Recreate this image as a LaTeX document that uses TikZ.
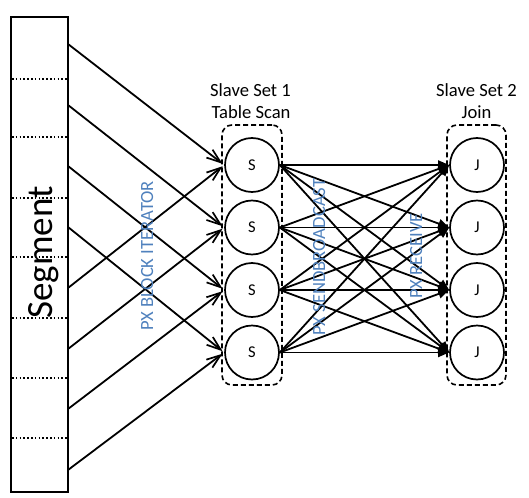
\documentclass[tikz,border=0pt]{standalone}
\usepackage{fontspec}
\setmainfont{Carlito}
\usetikzlibrary{arrows.meta}
\definecolor{pxblue}{RGB}{79,129,189}
\begin{document}
\begin{tikzpicture}[x=1pt,y=-1pt,
  worker/.style={circle,draw,line width=1.7pt,minimum size=54pt,inner sep=0pt,font=\fontsize{16.5}{18}\selectfont},
  setbox/.style={draw,line width=1.6pt,rounded corners=10pt,dash pattern=on 5pt off 3pt,inner sep=0pt},
  scanline/.style={line width=1.8pt,shorten >=2pt,-{Straight Barb[length=14pt,width=10pt,line width=1.7pt]}},
  sendline/.style={line width=1.8pt,-{Triangle[length=11pt,width=9pt]}},
  pxlabel/.style={rotate=90,anchor=base,text=pxblue,font=\fontsize{18.6}{22}\selectfont,inner sep=0pt},
  title/.style={anchor=base,font=\fontsize{18.6}{22}\selectfont,inner sep=0pt},
  sep/.style={line width=2pt,dash pattern=on 1.6pt off 2.2pt}
]
\useasboundingbox (0,0) rectangle (529,497);

% segment
\node (seg) [draw,line width=2.2pt,inner sep=0pt,minimum width=57pt,minimum height=475pt] at (39.5,254.5) {};
\foreach \y in {79,137,198,257,318,378,438}
  \draw[sep] (12,\y) -- (67,\y);
\node (segtxt) [rotate=90,anchor=base,font=\fontsize{37}{40}\selectfont,inner sep=0pt] at (52,252.5) {Segment};

% line start points on the segment
\coordinate (a1) at (68,44);
\coordinate (a2) at (68,105);
\coordinate (a3) at (68,166);
\coordinate (a4) at (68,227);
\coordinate (a5) at (68,288);
\coordinate (a6) at (68,349);
\coordinate (a7) at (68,409);
\coordinate (a8) at (68,470);

% slave set boxes
\node[setbox,minimum width=60pt,minimum height=260pt] (box1) at (252,255) {};
\node[setbox,minimum width=59pt,minimum height=260pt] (box2) at (476.5,255) {};

% workers
\node[worker] (s1) at (252,165) {S};
\node[worker] (s2) at (252,227.5) {S};
\node[worker] (s3) at (252,290) {S};
\node[worker] (s4) at (252,352.5) {S};
\node[worker] (j1) at (477,165) {J};
\node[worker] (j2) at (477,227.5) {J};
\node[worker] (j3) at (477,290) {J};
\node[worker] (j4) at (477,352.5) {J};

% titles
\node[title] (t1a) at (250.5,97) {Slave Set 1};
\node[title] (t1b) at (251,119) {Table Scan};
\node[title] (t2a) at (476.5,97) {Slave Set 2};
\node[title] (t2b) at (476.5,119) {Join};

% connectors
\foreach \i/\s in {1/1,2/2,3/3,4/4,5/1,6/2,7/3,8/4}
  \draw[scanline] (a\i) -- (s\s.west);
\foreach \i in {1,...,4}
  \foreach \j in {1,...,4}
    \draw[sendline] (s\i.east) -- (j\j.west);

% labels
\node[pxlabel] (l1) at (153,256) {PX BLOCK ITERATOR};
\node[pxlabel] (l2) at (325,257) {PX SENDBROADCAST};
\node[pxlabel] (l3) at (422,256) {PX RECEIVE};
\end{tikzpicture}
\end{document}
